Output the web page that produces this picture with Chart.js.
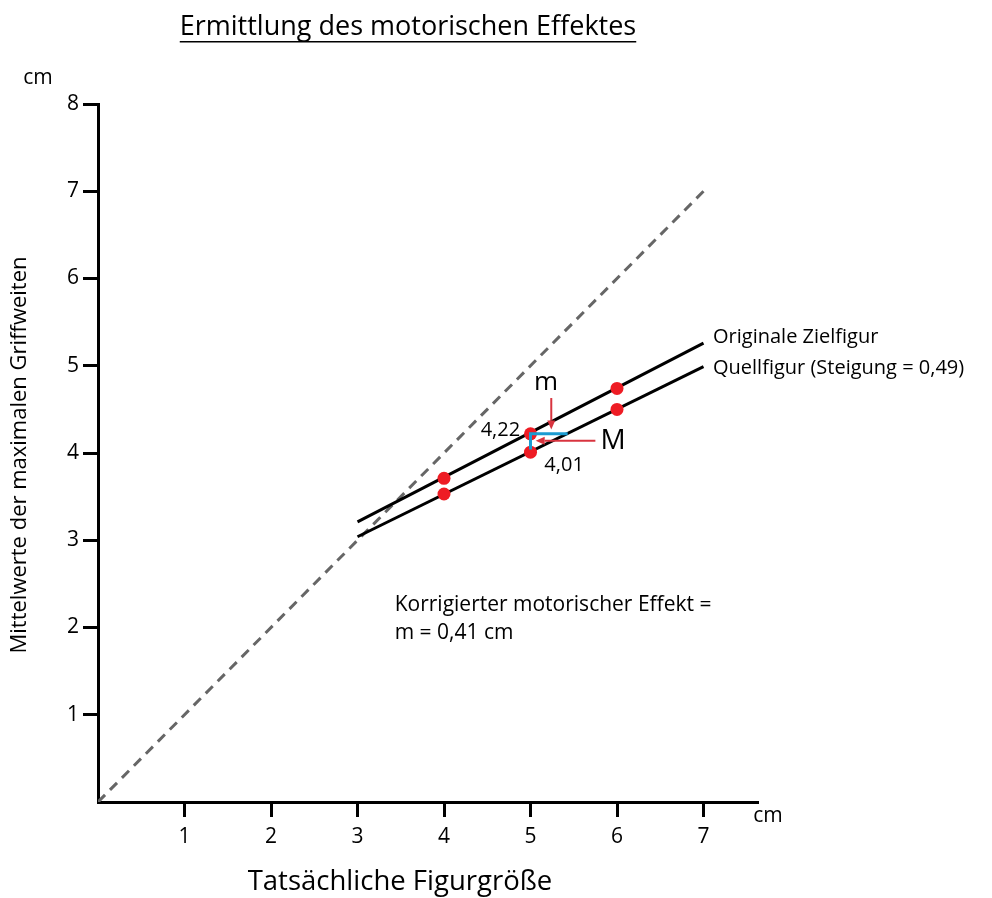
<!DOCTYPE html>
<html>
<head>
<meta charset="utf-8">
<script src="https://cdn.jsdelivr.net/npm/chart.js@4"></script>
<style>
  html, body { margin: 0; padding: 0; background: #fff; }
  #wrap { width: 992px; height: 898px; }
</style>
</head>
<body>
<div id="wrap"><canvas id="chart" width="992" height="898"></canvas></div>
<script>
// ===== DATA =====
const xTicks = [1, 2, 3, 4, 5, 6, 7];
const yTicks = [1, 2, 3, 4, 5, 6, 7, 8];

const diagX = [0, 7];
const diagY = [0, 7];

const lineX     = [3, 7];
const zielLine  = [3.21, 5.26];
const quellLine = [3.04, 4.99];

const ptsX     = [4, 5, 6];
const zielPts  = [3.71, 4.22, 4.74];
const quellPts = [3.53, 4.01, 4.50];

// blue bracket at x = 5
const bracketX = [5, 5, 5.43];
const bracketY = [4.04, 4.22, 4.22];

// red arrows: [x0, y0, x1, y1] (tail -> tip), data units
const arrowSmallM = [5.24, 4.63, 5.24, 4.27];
const arrowBigM   = [5.75, 4.14, 5.06, 4.14];

const FONT = '"Open Sans", "Noto Sans", sans-serif';
const RED = '#ee1c24';
const ARROW = '#d8343f';

const toPts = (xs, ys) => xs.map((x, i) => ({ x: x, y: ys[i] }));

// ======== ANNOTATIONS ========
function arrow(ctx, x0, y0, x1, y1) {
  const a = Math.atan2(y1 - y0, x1 - x0);
  const head = 9, half = 4;
  ctx.strokeStyle = ARROW;
  ctx.fillStyle = ARROW;
  ctx.lineWidth = 2;
  ctx.beginPath();
  ctx.moveTo(x0, y0);
  ctx.lineTo(x1 - Math.cos(a) * head, y1 - Math.sin(a) * head);
  ctx.stroke();
  ctx.beginPath();
  ctx.moveTo(x1, y1);
  ctx.lineTo(x1 - Math.cos(a) * head - Math.sin(a) * half, y1 - Math.sin(a) * head + Math.cos(a) * half);
  ctx.lineTo(x1 - Math.cos(a) * head + Math.sin(a) * half, y1 - Math.sin(a) * head - Math.cos(a) * half);
  ctx.closePath();
  ctx.fill();
}

const annotations = {
  id: 'annotations',
  afterDraw(chart) {
    const { ctx, scales: { x, y } } = chart;
    const px = v => x.getPixelForValue(v);
    const py = v => y.getPixelForValue(v);
    ctx.save();
    ctx.fillStyle = '#000';
    ctx.textBaseline = 'middle';

    // title, underlined
    ctx.font = '27px ' + FONT;
    ctx.textAlign = 'center';
    const title = 'Ermittlung des motorischen Effektes';
    ctx.fillText(title, 408, 27);
    const tw = ctx.measureText(title).width;
    ctx.fillRect(408 - tw / 2, 41, tw, 1.5);

    // units
    ctx.font = '21px ' + FONT;
    ctx.fillText('cm', 38, 78);
    ctx.fillText('cm', 768, 816);

    // axis titles
    ctx.font = '27.5px ' + FONT;
    ctx.fillText('Tatsächliche Figurgröße', 400, 882);
    ctx.save();
    ctx.translate(20, 455);
    ctx.rotate(-Math.PI / 2);
    ctx.font = '22px ' + FONT;
    ctx.fillText('Mittelwerte der maximalen Griffweiten', 0, 0);
    ctx.restore();

    // series labels
    ctx.textAlign = 'left';
    ctx.font = '20px ' + FONT;
    ctx.fillText('Originale Zielfigur', px(7.11), py(5.33));
    ctx.fillText('Quellfigur (Steigung = 0,49)', px(7.11), py(4.97));

    // values
    ctx.textAlign = 'right';
    ctx.fillText('4,22', px(4.88), py(4.26));
    ctx.textAlign = 'left';
    ctx.fillText('4,01', px(5.16), py(3.86));

    // m / M
    ctx.font = '26px ' + FONT;
    ctx.textAlign = 'center';
    ctx.fillText('m', px(5.18), py(4.81));
    ctx.font = '28px ' + FONT;
    ctx.textAlign = 'left';
    ctx.fillText('M', px(5.81), py(4.14));

    // result text
    ctx.font = '21px ' + FONT;
    ctx.fillText('Korrigierter motorischer Effekt =', px(3.43), py(2.26));
    ctx.fillText('m = 0,41 cm', px(3.43), py(1.94));

    arrow(ctx, px(arrowSmallM[0]), py(arrowSmallM[1]), px(arrowSmallM[2]), py(arrowSmallM[3]));
    arrow(ctx, px(arrowBigM[0]), py(arrowBigM[1]), px(arrowBigM[2]), py(arrowBigM[3]));
    ctx.restore();
  }
};

// ======== CHART ========
const axisCommon = {
  type: 'linear',
  grid: { drawOnChartArea: false, drawTicks: true, tickLength: 15, tickWidth: 3, tickColor: '#000' },
  border: { display: true, color: '#000', width: 3 },
  ticks: { color: '#000', font: { size: 21, family: FONT } },
};

new Chart(document.getElementById('chart'), {
  type: 'scatter',
  data: {
    datasets: [
      {
        data: toPts(bracketX, bracketY),
        showLine: true,
        borderColor: '#1b9bd1',
        borderWidth: 3,
        pointRadius: 0,
      },
      {
        data: toPts(ptsX, zielPts),
        backgroundColor: RED,
        borderWidth: 0,
        pointRadius: 6.5,
      },
      {
        data: toPts(ptsX, quellPts),
        backgroundColor: RED,
        borderWidth: 0,
        pointRadius: 6.5,
      },
      {
        data: toPts(lineX, zielLine),
        showLine: true,
        borderColor: '#000',
        borderWidth: 3,
        pointRadius: 0,
      },
      {
        data: toPts(lineX, quellLine),
        showLine: true,
        borderColor: '#000',
        borderWidth: 3,
        pointRadius: 0,
      },
      {
        data: toPts(diagX, diagY),
        showLine: true,
        borderColor: '#666',
        borderWidth: 3,
        borderDash: [10, 7],
        pointRadius: 0,
      },
    ],
  },
  options: {
    responsive: false,
    devicePixelRatio: 1,
    animation: false,
    layout: { padding: { top: 104, right: 234, left: 0, bottom: 0 } },
    plugins: { legend: { display: false }, tooltip: { enabled: false } },
    scales: {
      x: {
        ...axisCommon,
        min: 0, max: 7.63,
        afterFit: s => { s.height = 96; },
        afterBuildTicks: s => { s.ticks = xTicks.map(v => ({ value: v })); },
        ticks: { ...axisCommon.ticks, padding: 7 },
      },
      y: {
        ...axisCommon,
        min: 0, max: 8,
        afterFit: s => { s.width = 98; },
        afterBuildTicks: s => { s.ticks = yTicks.map(v => ({ value: v })); },
        ticks: { ...axisCommon.ticks, padding: 4 },
      },
    },
  },
  plugins: [annotations],
});
</script>
</body>
</html>
